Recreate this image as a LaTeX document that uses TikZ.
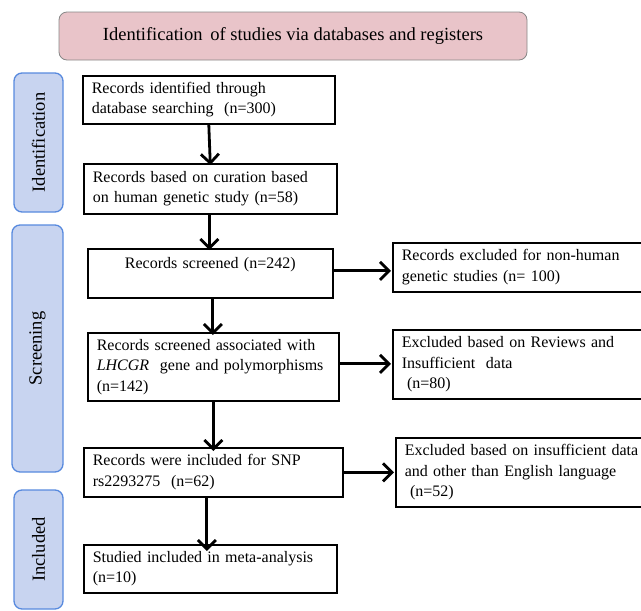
\documentclass[tikz,border=0pt]{standalone}
\usepackage{fontspec}
\setmainfont{Liberation Serif}
\usetikzlibrary{arrows.meta,calc}

\definecolor{headfill}{RGB}{233,196,201}
\definecolor{headline}{RGB}{135,135,135}
\definecolor{barfill}{RGB}{200,212,240}
\definecolor{barline}{RGB}{88,138,222}

\tikzset{
  flowbox/.style={draw=black, line width=1.6pt, anchor=north west,
    inner xsep=9pt, inner ysep=0pt, align=left,
    font=\fontsize{16}{20.5}\selectfont},
  % outer width and height of a box; the text block is 18pt narrower
  boxsize/.code 2 args={%
    \pgfmathsetlengthmacro\boxtextwd{#1pt-18pt}%
    \tikzset{minimum width=#1pt, minimum height=#2pt, text width=\boxtextwd}},
  headbox/.style={draw=headline, line width=0.8pt, fill=headfill,
    rounded corners=8pt, inner sep=0pt, font=\fontsize{18.5}{22}\selectfont},
  stagebar/.style={draw=barline, line width=1.3pt, fill=barfill,
    rounded corners=8pt, rotate=90, inner sep=0pt,
    font=\fontsize{18.5}{22}\selectfont},
  flowarrow/.style={line width=2.8pt,
    -{Straight Barb[length=9pt,width=18pt,line width=2.8pt]}},
}

\begin{document}
\begin{tikzpicture}[x=1pt, y=-1pt]
  \useasboundingbox (0,0) rectangle (641,611);
  \clip (0,0) rectangle (641,611);

  % title banner
  \node[headbox, minimum width=468pt, minimum height=48pt] (head) at (293,36)
    {Identification\, of studies via databases and registers};

  % stage bars on the left
  \node[stagebar, minimum width=139pt, minimum height=49pt] (idbar) at (38.5,142.5) {Identification};
  \node[stagebar, minimum width=247pt, minimum height=51pt] (scbar) at (37.5,348.5) {Screening};
  \node[stagebar, minimum width=119pt, minimum height=49pt] (inbar) at (38.5,549.5) {Included};

  % main column
  \node[flowbox, boxsize={252}{48}] (b1) at (82,75)
    {Records identified through\\database searching\ \ (n=300)};
  \node[flowbox, boxsize={253}{50}] (b2) at (83,163)
    {Records based on curation based\\on human genetic study (n=58)};
  \node[flowbox, boxsize={245}{49}, align=center] (b3) at (87,248)
    {Records screened (n=242)\\\mbox{}};
  \node[flowbox, boxsize={251}{68}] (b4) at (87,332)
    {Records screened associated with\\\textit{LHCGR}\ \ gene and polymorphisms\\(n=142)};
  \node[flowbox, boxsize={259}{49}] (b5) at (83,447)
    {Records were included for SNP\\rs2293275\ \ (n=62)};
  \node[flowbox, boxsize={253}{48}] (b6) at (83,544)
    {Studied included in meta-analysis\\(n=10)};

  % exclusion column (runs past the right edge)
  \node[flowbox, boxsize={264}{49}] (r1) at (392,242)
    {Records excluded for non-human\\genetic studies (n= 100)};
  \node[flowbox, boxsize={264}{69}] (r2) at (392,329)
    {Excluded based on Reviews and\\Insufficient\ \ data\\\ (n=80)};
  \node[flowbox, boxsize={264}{69}] (r3) at (395,437)
    {Excluded based on insufficient data\\and other than English language\\\ (n=52)};

  % downward flow
  \draw[flowarrow] (b1.south) -- ([yshift=-2pt]b2.north);
  \draw[flowarrow] ([xshift=-1pt]b2.south) -- ([xshift=-1pt,yshift=-2pt]b2.south |- b3.north);
  \draw[flowarrow] ([xshift=2.5pt]b3.south) -- ([xshift=2.5pt,yshift=-3pt]b3.south |- b4.north);
  \draw[flowarrow] (b4.south) -- ([yshift=-4pt]b4.south |- b5.north);
  \draw[flowarrow] ([xshift=-6.5pt]b5.south) -- ([xshift=-6.5pt,yshift=-7pt]b5.south |- b6.north);

  % exclusions to the right
  \draw[flowarrow] ([yshift=2.5pt]b3.east) -- ([yshift=2.5pt,xshift=-1pt]b3.east -| r1.west);
  \draw[flowarrow] ([yshift=3pt]b4.east) -- ([yshift=3pt,xshift=-1pt]b4.east -| r2.west);
  \draw[flowarrow] (b5.east) -- ([xshift=-1pt]b5.east -| r3.west);
\end{tikzpicture}
\end{document}
